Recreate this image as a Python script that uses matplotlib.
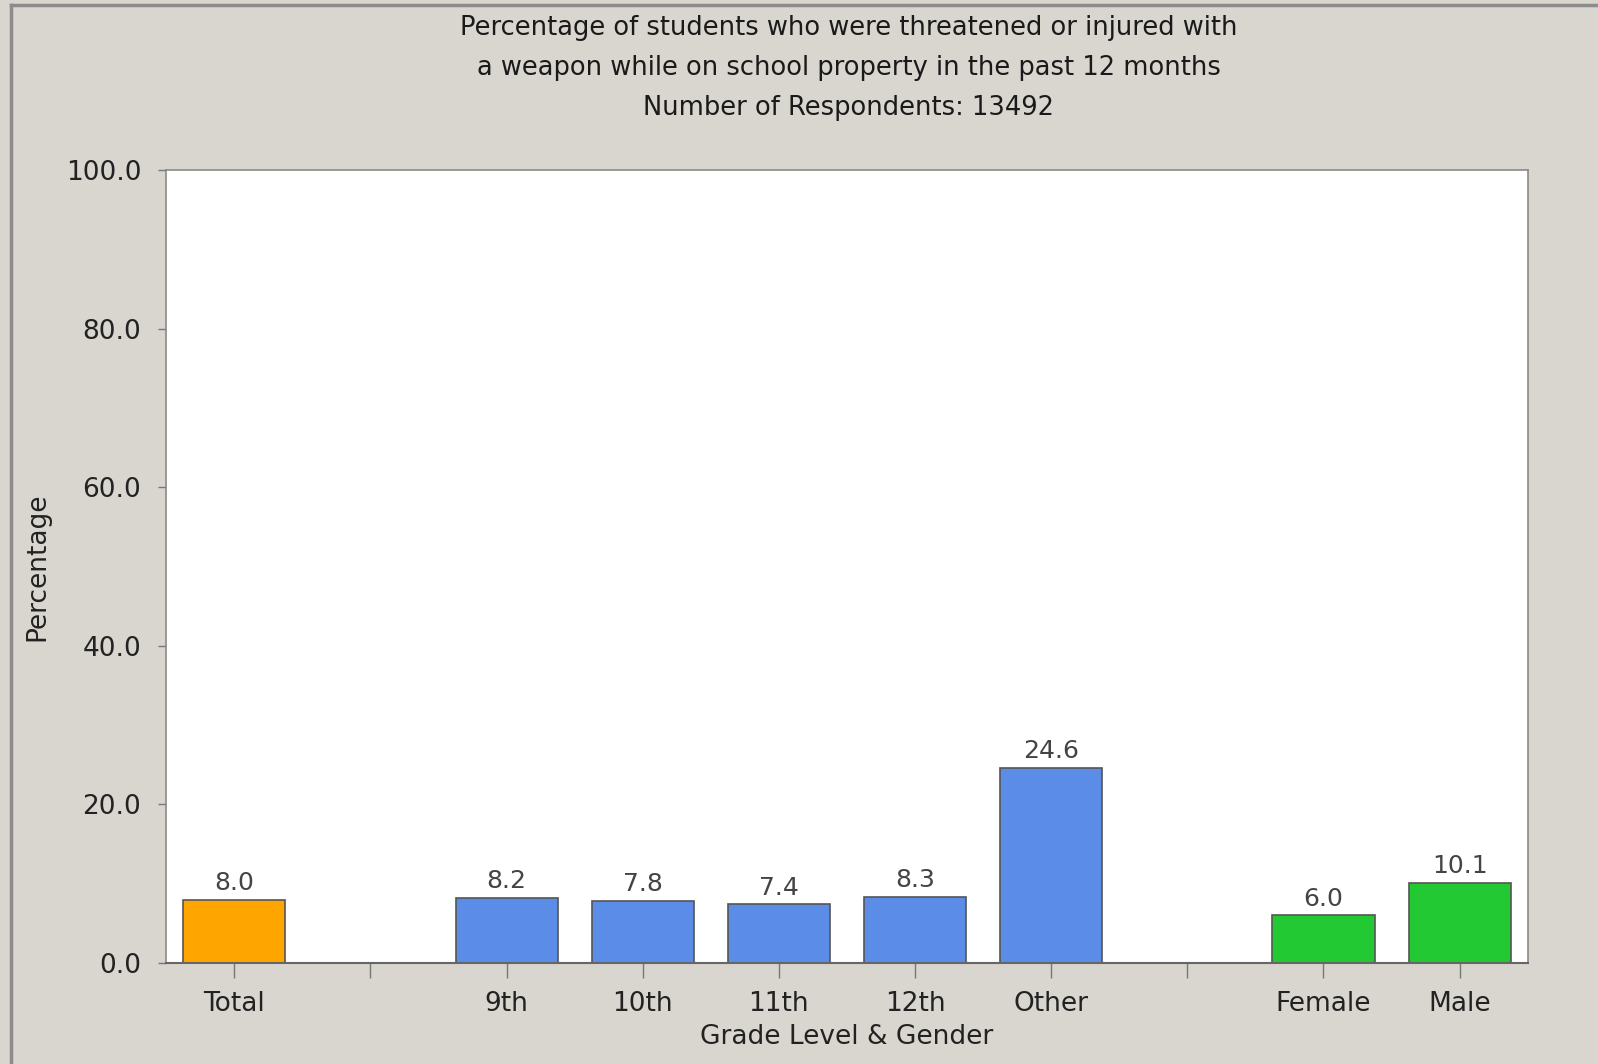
import numpy as np
import matplotlib
matplotlib.use("Agg")
from matplotlib import pyplot as plt
from matplotlib.lines import Line2D

# data
categories = ["Total", "", "9th", "10th", "11th", "12th", "Other", "", "Female", "Male"]
values = [8.0, None, 8.2, 7.8, 7.4, 8.3, 24.6, None, 6.0, 10.1]
bar_colors = ["#ffa500", None, "#5b8de8", "#5b8de8", "#5b8de8", "#5b8de8", "#5b8de8",
              None, "#22c932", "#22c932"]
yticks = [0, 20, 40, 60, 80, 100]

title = ("Percentage of students who were threatened or injured with\n"
         "a weapon while on school property in the past 12 months\n"
         "Number of Respondents: 13492")

plt.rcParams['font.family'] = ['DejaVu Sans']

bg = "#d9d5cf"
fig = plt.figure(figsize=(15.98, 10.64), dpi=100, facecolor=bg)
ax = fig.add_axes([0.104, 0.095, 0.852, 0.745])
ax.set_facecolor("white")

x = np.arange(len(categories))
for i, (v, c) in enumerate(zip(values, bar_colors)):
    if v is None:
        continue
    ax.bar(x[i], v, width=0.75, color=c, edgecolor="#555555", linewidth=1.2, zorder=2)
    ax.text(x[i], v + 0.6, f"{v:.1f}", ha="center", va="bottom",
            fontsize=18, color="#444444")

ax.set_xlim(-0.5, len(categories) - 0.5)
ax.set_ylim(0, 100)
ax.set_xticks(x)
ax.set_xticklabels(categories, fontsize=19, color="#222222")
ax.set_yticks(yticks)
ax.set_yticklabels([f"{t:.1f}" for t in yticks], fontsize=19, color="#222222")
ax.tick_params(axis="x", direction="out", length=11, width=1, color="#777777", pad=9)
ax.tick_params(axis="y", direction="out", length=6, width=1, color="#777777", pad=12)

for s in ["top", "right", "left"]:
    ax.spines[s].set_color("#8a8a8a")
    ax.spines[s].set_linewidth(1.2)
ax.spines["bottom"].set_color("#666666")
ax.spines["bottom"].set_linewidth(1.5)

ax.set_xlabel("Grade Level & Gender", fontsize=19, color="#222222", labelpad=5)
ax.set_ylabel("Percentage", fontsize=19, color="#222222", labelpad=11)

fig.text(0.531, 0.986, title, ha="center", va="top", fontsize=18.5,
         color="#1a1a1a", linespacing=1.7)

# outer frame lines (left and top)
fig.add_artist(Line2D([0.007, 0.007], [0.0, 0.995], transform=fig.transFigure,
                      color="#8c8c8c", linewidth=2.5))
fig.add_artist(Line2D([0.007, 1.0], [0.995, 0.995], transform=fig.transFigure,
                      color="#8c8c8c", linewidth=2.5))

fig.savefig("out.png", dpi=100, facecolor=bg)
